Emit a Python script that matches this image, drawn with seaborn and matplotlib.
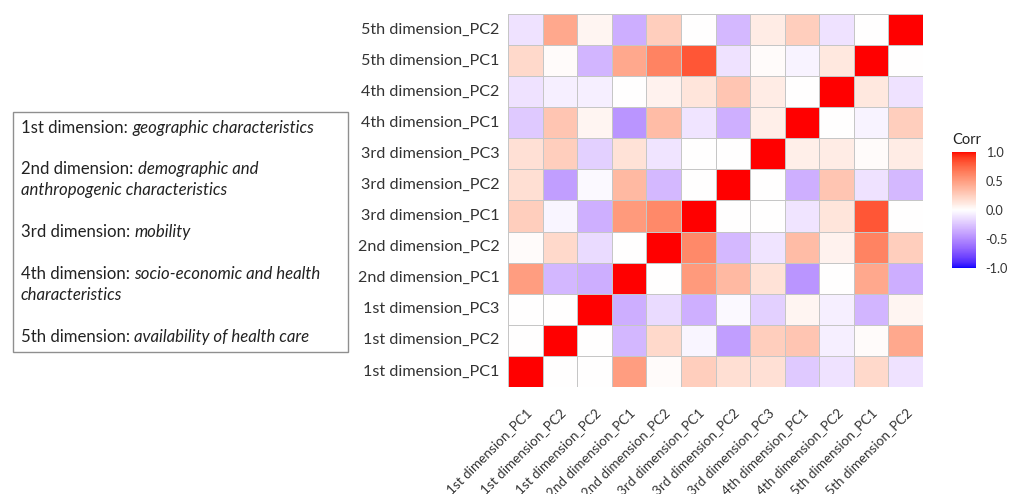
import numpy as np
import pandas as pd
import matplotlib
matplotlib.use("Agg")
import matplotlib.pyplot as plt
from matplotlib.colors import ListedColormap
from matplotlib.patches import Rectangle
import seaborn as sns

# Principal components of the five dimensions (row/column order of the matrix)
variables = [
    "1st dimension_PC1", "1st dimension_PC2", "1st dimension_PC3",
    "2nd dimension_PC1", "2nd dimension_PC2",
    "3rd dimension_PC1", "3rd dimension_PC2", "3rd dimension_PC3",
    "4th dimension_PC1", "4th dimension_PC2",
    "5th dimension_PC1", "5th dimension_PC2",
]
# Column labels as printed under the matrix
x_labels = [
    "1st dimension_PC1", "1st dimension_PC2", "1st dimension_PC2",
    "2nd dimension_PC1", "2nd dimension_PC2",
    "3rd dimension_PC1", "3rd dimension_PC2", "3rd dimension_PC3",
    "4th dimension_PC1", "4th dimension_PC2",
    "5th dimension_PC1", "5th dimension_PC2",
]

# Pearson correlations, one row per variable
corr_1pc1 = [1.00, 0.00, 0.00, 0.50, 0.02, 0.25, 0.17, 0.16, -0.23, -0.12, 0.20, -0.12]
corr_1pc2 = [0.00, 1.00, 0.00, -0.31, 0.20, -0.04, -0.42, 0.25, 0.30, -0.07, 0.02, 0.45]
corr_1pc3 = [0.00, 0.00, 1.00, -0.35, -0.15, -0.34, -0.03, -0.20, 0.05, -0.07, -0.32, 0.05]
corr_2pc1 = [0.50, -0.31, -0.35, 1.00, 0.00, 0.52, 0.36, 0.15, -0.46, 0.00, 0.45, -0.35]
corr_2pc2 = [0.02, 0.20, -0.15, 0.00, 1.00, 0.60, -0.30, -0.11, 0.35, 0.07, 0.63, 0.25]
corr_3pc1 = [0.25, -0.04, -0.34, 0.52, 0.60, 1.00, 0.00, 0.00, -0.11, 0.14, 0.82, 0.00]
corr_3pc2 = [0.17, -0.42, -0.03, 0.36, -0.30, 0.00, 1.00, 0.00, -0.34, 0.30, -0.12, -0.30]
corr_3pc3 = [0.16, 0.25, -0.20, 0.15, -0.11, 0.00, 0.00, 1.00, 0.08, 0.10, 0.02, 0.10]
corr_4pc1 = [-0.23, 0.30, 0.05, -0.46, 0.35, -0.11, -0.34, 0.08, 1.00, 0.00, -0.05, 0.25]
corr_4pc2 = [-0.12, -0.07, -0.07, 0.00, 0.07, 0.14, 0.30, 0.10, 0.00, 1.00, 0.12, -0.12]
corr_5pc1 = [0.20, 0.02, -0.32, 0.45, 0.63, 0.82, -0.12, 0.02, -0.05, 0.12, 1.00, 0.00]
corr_5pc2 = [-0.12, 0.45, 0.05, -0.35, 0.25, 0.00, -0.30, 0.10, 0.25, -0.12, 0.00, 1.00]

rows = [corr_1pc1, corr_1pc2, corr_1pc3, corr_2pc1, corr_2pc2, corr_3pc1,
        corr_3pc2, corr_3pc3, corr_4pc1, corr_4pc2, corr_5pc1, corr_5pc2]

corr = pd.DataFrame(rows, index=variables, columns=variables)
# first variable at the bottom of the matrix
corr_plot = corr.iloc[::-1]

legend_lines = [
    ("1st dimension: ", "geographic characteristics"),
    ("2nd dimension: ", "demographic and"),
    ("", "anthropogenic characteristics"),
    ("3rd dimension: ", "mobility"),
    ("4th dimension: ", "socio-economic and health"),
    ("", "characteristics"),
    ("5th dimension: ", "availability of health care"),
]


def lab_to_rgb(lab):
    """CIE Lab (D65) -> sRGB in [0, 1]."""
    L, a, b = lab[..., 0], lab[..., 1], lab[..., 2]
    fy = (L + 16) / 116
    fx = fy + a / 500
    fz = fy - b / 200
    d = 6 / 29

    def finv(t):
        return np.where(t > d, t ** 3, 3 * d * d * (t - 4 / 29))

    xyz = np.stack([0.95047 * finv(fx), finv(fy), 1.08883 * finv(fz)], axis=-1)
    m = np.array([[3.2406, -1.5372, -0.4986],
                  [-0.9689, 1.8758, 0.0415],
                  [0.0557, -0.2040, 1.0570]])
    lin = xyz @ m.T
    lin = np.clip(lin, 0, 1)
    rgb = np.where(lin <= 0.0031308, 12.92 * lin, 1.055 * lin ** (1 / 2.4) - 0.055)
    return np.clip(rgb, 0, 1)


# blue - white - red diverging palette interpolated in Lab space
lab_blue = np.array([32.30, 79.19, -107.86])
lab_white = np.array([100.0, 0.0, 0.0])
lab_red = np.array([53.24, 80.09, 67.20])
t = np.linspace(0, 1, 256)[:, None]
lab = np.where(t < 0.5,
               lab_blue + (lab_white - lab_blue) * (t / 0.5),
               lab_white + (lab_red - lab_white) * ((t - 0.5) / 0.5))
cmap = ListedColormap(lab_to_rgb(lab))

sns.set_theme(style="white")
plt.rcParams["font.family"] = ["Lato", "DejaVu Sans"]

W, H = 1009, 494
fig = plt.figure(figsize=(W / 100, H / 100), dpi=100)
ax = fig.add_axes([508 / W, 1 - 387 / H, 415 / W, 373 / H])
cax = fig.add_axes([952 / W, 1 - 268 / H, 24 / W, 116 / H])

sns.heatmap(corr_plot, ax=ax, cmap=cmap, vmin=-1, vmax=1, center=0,
            linewidths=0.7, linecolor="#c6c6c6", cbar_ax=cax,
            xticklabels=x_labels, yticklabels=list(corr_plot.index))

label_color = "#333333"
ax.tick_params(axis="both", length=0, colors=label_color)
ax.tick_params(axis="y", pad=6, labelsize=11.6)
ax.tick_params(axis="x", pad=14, labelsize=9.7)
plt.setp(ax.get_yticklabels(), rotation=0)
plt.setp(ax.get_xticklabels(), rotation=45, ha="right", rotation_mode="anchor")
ax.set_xlabel("")
ax.set_ylabel("")

# colour bar legend
cax.set_yticks([-1, -0.5, 0, 0.5, 1])
cax.set_yticklabels(["-1.0", "-0.5", "0.0", "0.5", "1.0"])
cax.tick_params(axis="y", which="both", left=True, right=True, direction="in",
                length=4, width=1, color="white", labelsize=9.2,
                labelcolor=label_color, pad=7)
for s in cax.spines.values():
    s.set_visible(False)
fig.text(952 / W, 1 - 140 / H, "Corr", fontsize=10.5, color="#222222",
         ha="left", va="center")

# text box describing the dimensions
fig.patches.append(Rectangle((13 / W, 1 - 352 / H), 335 / W, 240 / H,
                             transform=fig.transFigure, fill=False,
                             edgecolor="#8f8f8f", linewidth=1.0))
line_y = [128, 169, 190, 232, 274, 295, 337]
box_fs = 12.1
text_color = "#222222"
for (plain, ital), yc in zip(legend_lines, line_y):
    y = 1 - yc / H
    if plain:
        t1 = fig.text(21 / W, y, plain, fontsize=box_fs, color=text_color,
                      ha="left", va="center")
        ax.annotate(ital, xy=(1, 0), xycoords=t1, ha="left", va="bottom",
                    fontsize=box_fs, fontstyle="italic", color=text_color,
                    annotation_clip=False)
    else:
        fig.text(21 / W, y, ital, fontsize=box_fs, fontstyle="italic",
                 color=text_color, ha="left", va="center")

fig.savefig("out.png", dpi=100)
